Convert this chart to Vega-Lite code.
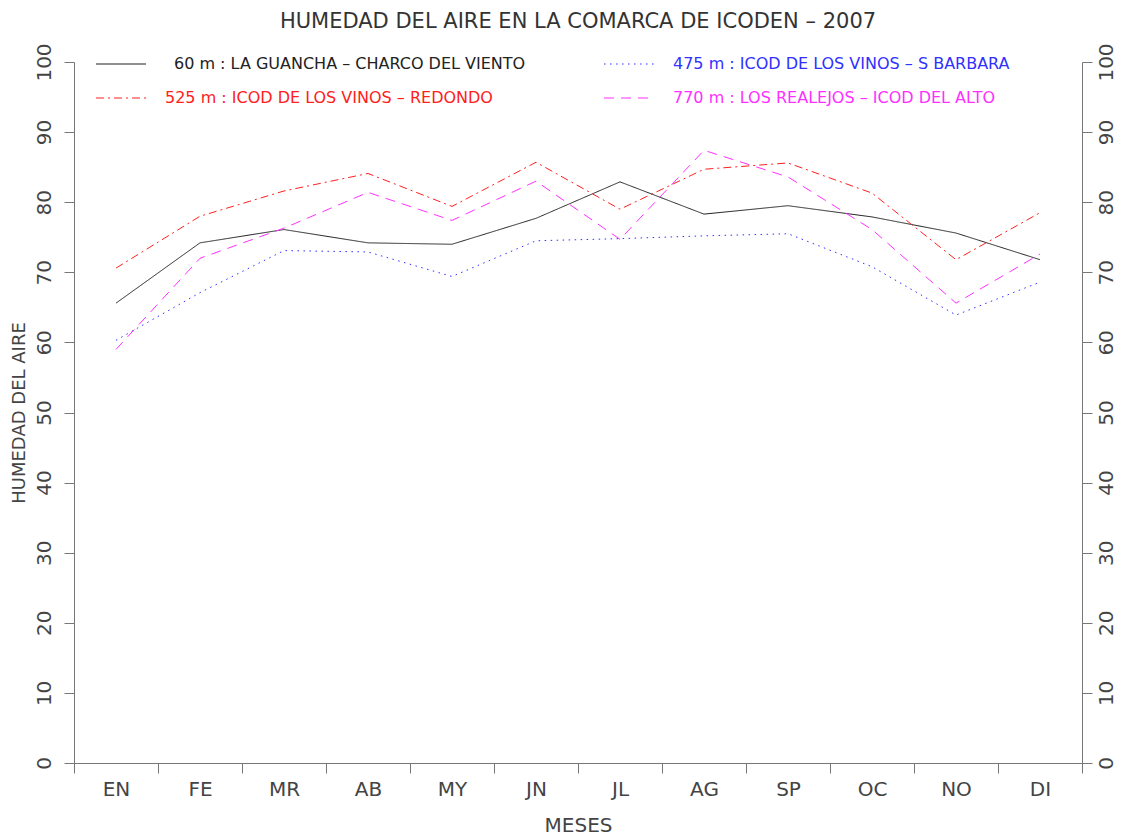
{
  "$schema": "https://vega.github.io/schema/vega-lite/v6.json",
  "autosize": {"type": "none"},
  "width": 1008,
  "height": 701,
  "padding": {"left": 74, "top": 62, "right": 39, "bottom": 74},
  "background": "white",
  "title": {
    "text": "HUMEDAD DEL AIRE EN LA COMARCA DE ICODEN – 2007",
    "font": "DejaVu Sans",
    "fontSize": 21,
    "fontWeight": "normal",
    "color": "#333333",
    "anchor": "middle",
    "offset": 6
  },
  "config": {
    "view": {"stroke": null},
    "axis": {
      "domainColor": "#777777",
      "tickColor": "#777777",
      "labelColor": "#444444",
      "titleColor": "#444444",
      "labelFont": "DejaVu Sans",
      "titleFont": "DejaVu Sans",
      "titleFontWeight": "normal",
      "grid": false,
      "tickSize": 10
    }
  },
  "data": {
    "values": [
      {"mes": "EN", "serie": "60 m : LA GUANCHA – CHARCO DEL VIENTO", "valor": 65.6},
      {"mes": "FE", "serie": "60 m : LA GUANCHA – CHARCO DEL VIENTO", "valor": 74.2},
      {"mes": "MR", "serie": "60 m : LA GUANCHA – CHARCO DEL VIENTO", "valor": 76.1},
      {"mes": "AB", "serie": "60 m : LA GUANCHA – CHARCO DEL VIENTO", "valor": 74.2},
      {"mes": "MY", "serie": "60 m : LA GUANCHA – CHARCO DEL VIENTO", "valor": 74.0},
      {"mes": "JN", "serie": "60 m : LA GUANCHA – CHARCO DEL VIENTO", "valor": 77.7},
      {"mes": "JL", "serie": "60 m : LA GUANCHA – CHARCO DEL VIENTO", "valor": 82.9},
      {"mes": "AG", "serie": "60 m : LA GUANCHA – CHARCO DEL VIENTO", "valor": 78.3},
      {"mes": "SP", "serie": "60 m : LA GUANCHA – CHARCO DEL VIENTO", "valor": 79.5},
      {"mes": "OC", "serie": "60 m : LA GUANCHA – CHARCO DEL VIENTO", "valor": 77.9},
      {"mes": "NO", "serie": "60 m : LA GUANCHA – CHARCO DEL VIENTO", "valor": 75.6},
      {"mes": "DI", "serie": "60 m : LA GUANCHA – CHARCO DEL VIENTO", "valor": 71.8},
      {"mes": "EN", "serie": "475 m : ICOD DE LOS VINOS – S BARBARA", "valor": 60.3},
      {"mes": "FE", "serie": "475 m : ICOD DE LOS VINOS – S BARBARA", "valor": 67.1},
      {"mes": "MR", "serie": "475 m : ICOD DE LOS VINOS – S BARBARA", "valor": 73.1},
      {"mes": "AB", "serie": "475 m : ICOD DE LOS VINOS – S BARBARA", "valor": 72.9},
      {"mes": "MY", "serie": "475 m : ICOD DE LOS VINOS – S BARBARA", "valor": 69.4},
      {"mes": "JN", "serie": "475 m : ICOD DE LOS VINOS – S BARBARA", "valor": 74.5},
      {"mes": "JL", "serie": "475 m : ICOD DE LOS VINOS – S BARBARA", "valor": 74.8},
      {"mes": "AG", "serie": "475 m : ICOD DE LOS VINOS – S BARBARA", "valor": 75.2},
      {"mes": "SP", "serie": "475 m : ICOD DE LOS VINOS – S BARBARA", "valor": 75.5},
      {"mes": "OC", "serie": "475 m : ICOD DE LOS VINOS – S BARBARA", "valor": 70.8},
      {"mes": "NO", "serie": "475 m : ICOD DE LOS VINOS – S BARBARA", "valor": 63.9},
      {"mes": "DI", "serie": "475 m : ICOD DE LOS VINOS – S BARBARA", "valor": 68.6},
      {"mes": "EN", "serie": "525 m : ICOD DE LOS VINOS – REDONDO", "valor": 70.6},
      {"mes": "FE", "serie": "525 m : ICOD DE LOS VINOS – REDONDO", "valor": 78.0},
      {"mes": "MR", "serie": "525 m : ICOD DE LOS VINOS – REDONDO", "valor": 81.6},
      {"mes": "AB", "serie": "525 m : ICOD DE LOS VINOS – REDONDO", "valor": 84.1},
      {"mes": "MY", "serie": "525 m : ICOD DE LOS VINOS – REDONDO", "valor": 79.4},
      {"mes": "JN", "serie": "525 m : ICOD DE LOS VINOS – REDONDO", "valor": 85.7},
      {"mes": "JL", "serie": "525 m : ICOD DE LOS VINOS – REDONDO", "valor": 79.0},
      {"mes": "AG", "serie": "525 m : ICOD DE LOS VINOS – REDONDO", "valor": 84.7},
      {"mes": "SP", "serie": "525 m : ICOD DE LOS VINOS – REDONDO", "valor": 85.6},
      {"mes": "OC", "serie": "525 m : ICOD DE LOS VINOS – REDONDO", "valor": 81.3},
      {"mes": "NO", "serie": "525 m : ICOD DE LOS VINOS – REDONDO", "valor": 71.8},
      {"mes": "DI", "serie": "525 m : ICOD DE LOS VINOS – REDONDO", "valor": 78.5},
      {"mes": "EN", "serie": "770 m : LOS REALEJOS – ICOD DEL ALTO", "valor": 59.0},
      {"mes": "FE", "serie": "770 m : LOS REALEJOS – ICOD DEL ALTO", "valor": 72.0},
      {"mes": "MR", "serie": "770 m : LOS REALEJOS – ICOD DEL ALTO", "valor": 76.3},
      {"mes": "AB", "serie": "770 m : LOS REALEJOS – ICOD DEL ALTO", "valor": 81.4},
      {"mes": "MY", "serie": "770 m : LOS REALEJOS – ICOD DEL ALTO", "valor": 77.4},
      {"mes": "JN", "serie": "770 m : LOS REALEJOS – ICOD DEL ALTO", "valor": 83.0},
      {"mes": "JL", "serie": "770 m : LOS REALEJOS – ICOD DEL ALTO", "valor": 74.7},
      {"mes": "AG", "serie": "770 m : LOS REALEJOS – ICOD DEL ALTO", "valor": 87.4},
      {"mes": "SP", "serie": "770 m : LOS REALEJOS – ICOD DEL ALTO", "valor": 83.6},
      {"mes": "OC", "serie": "770 m : LOS REALEJOS – ICOD DEL ALTO", "valor": 76.1},
      {"mes": "NO", "serie": "770 m : LOS REALEJOS – ICOD DEL ALTO", "valor": 65.6},
      {"mes": "DI", "serie": "770 m : LOS REALEJOS – ICOD DEL ALTO", "valor": 72.6}
    ]
  },
  "encoding": {
    "x": {
      "field": "mes",
      "type": "ordinal",
      "bandPosition": 0.5,
      "sort": ["EN", "FE", "MR", "AB", "MY", "JN", "JL", "AG", "SP", "OC", "NO", "DI"],
      "scale": {"type": "band", "paddingInner": 0, "paddingOuter": 0},
      "axis": {
        "title": "MESES",
        "tickBand": "extent",
        "labelAngle": 0,
        "labelFontSize": 20,
        "labelPadding": 6,
        "titleFontSize": 20,
        "titlePadding": 16
      }
    },
    "y": {
      "field": "valor",
      "type": "quantitative",
      "scale": {"domain": [0, 100], "nice": false}
    }
  },
  "layer": [
    {
      "mark": {"type": "line", "strokeWidth": 1, "interpolate": "linear"},
      "encoding": {
        "y": {
          "field": "valor",
          "type": "quantitative",
          "scale": {"domain": [0, 100], "nice": false},
          "axis": {
            "orient": "left",
            "title": "HUMEDAD DEL AIRE",
            "values": [0, 10, 20, 30, 40, 50, 60, 70, 80, 90, 100],
            "labelAngle": 270,
            "labelAlign": "center",
            "labelBaseline": "middle",
            "labelFontSize": 20,
            "labelPadding": 20,
            "titleFontSize": 18,
            "titlePadding": 6
          }
        },
        "color": {
          "field": "serie",
          "type": "nominal",
          "scale": {
            "domain": ["60 m : LA GUANCHA – CHARCO DEL VIENTO", "525 m : ICOD DE LOS VINOS – REDONDO", "475 m : ICOD DE LOS VINOS – S BARBARA", "770 m : LOS REALEJOS – ICOD DEL ALTO"],
            "range": ["#222222", "#ff2020", "#3030ff", "#ff30ff"]
          },
          "legend": {
            "title": null,
            "orient": "none",
            "legendX": 21,
            "legendY": -24,
            "columns": 2,
            "columnPadding": 75,
            "rowPadding": 0,
            "padding": 0,
            "symbolType": "stroke",
            "symbolSize": 2500,
            "symbolStrokeWidth": 1.2,
            "labelOffset": 18,
            "labelFont": "DejaVu Sans",
            "labelFontSize": 16,
            "labelLimit": 0,
            "encode": {
              "labels": {"update": {
                "fill": {"scale": "color", "field": "value"},
                "dx": {"signal": "indexof(datum.value, '60 m') === 0 ? 9 : 0"}
              }},
              "symbols": {"update": {
                "stroke": {"scale": "color", "field": "value"},
                "strokeDash": {"scale": "strokeDash", "field": "value"}
              }}
            }
          }
        },
        "strokeDash": {
          "field": "serie",
          "type": "nominal",
          "scale": {
            "domain": ["60 m : LA GUANCHA – CHARCO DEL VIENTO", "525 m : ICOD DE LOS VINOS – REDONDO", "475 m : ICOD DE LOS VINOS – S BARBARA", "770 m : LOS REALEJOS – ICOD DEL ALTO"],
            "range": [[1, 0], [8, 4, 2, 4], [1.5, 4.5], [10, 7]]
          },
          "legend": null
        }
      }
    },
    {
      "mark": {"type": "line", "opacity": 0},
      "encoding": {
        "detail": {"field": "serie", "type": "nominal"},
        "y": {
          "field": "valor",
          "type": "quantitative",
          "scale": {"domain": [0, 100], "nice": false},
          "axis": {
            "orient": "right",
            "title": null,
            "values": [0, 10, 20, 30, 40, 50, 60, 70, 80, 90, 100],
            "labelAngle": 270,
            "labelAlign": "center",
            "labelBaseline": "middle",
            "labelFontSize": 20,
            "labelPadding": 14
          }
        }
      }
    }
  ],
  "resolve": {"axis": {"y": "independent"}}
}
